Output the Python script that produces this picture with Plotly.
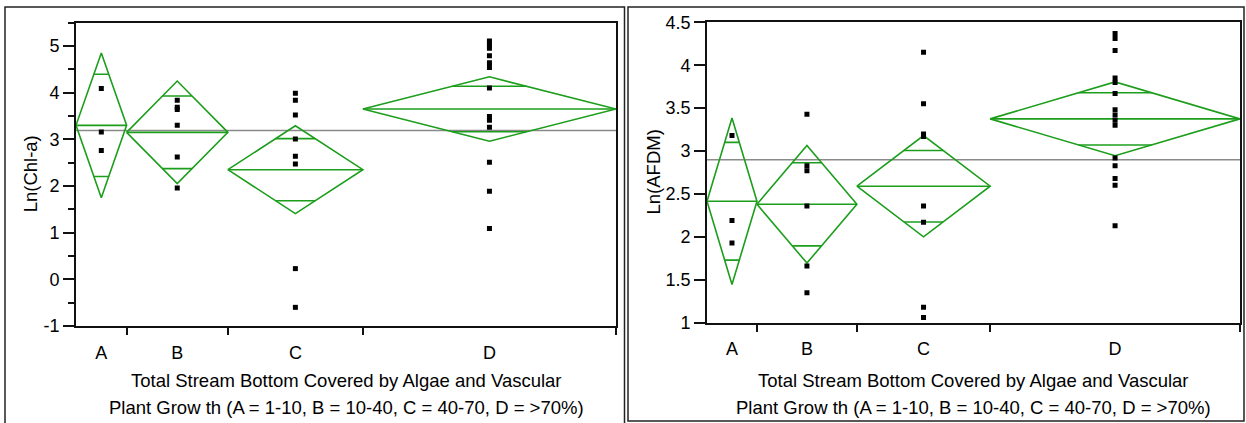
import math
import plotly.graph_objects as go

# ---- data -------------------------------------------------------------
groups = ["A", "B", "C", "D"]
n_obs = [3, 6, 8, 15]          # group sizes (sets the width of each level)

# Ln(Chl-a) observations per group
chl_A = [4.09, 3.16, 2.76]
chl_B = [3.84, 3.69, 3.64, 3.30, 2.62, 1.96]
chl_C = [3.99, 3.84, 3.52, 3.01, 2.64, 2.47, 0.23, -0.60]
chl_D = [5.11, 5.03, 4.95, 4.79, 4.64, 4.54, 4.10, 3.49, 3.41, 3.26, 2.51, 1.89, 1.09]
chl_means = [3.30, 3.15, 2.35, 3.65]
chl_ci = [1.55, 1.10, 0.94, 0.69]      # 95% CI half-widths
chl_grand = 3.19

# Ln(AFDM) observations per group
afdm_A = [3.18, 2.19, 1.93]
afdm_B = [3.43, 2.83, 2.77, 2.36, 1.66, 1.35]
afdm_C = [4.15, 3.55, 3.20, 3.17, 2.36, 2.17, 1.18, 1.06]
afdm_D = [4.37, 4.31, 4.17, 3.85, 3.80, 3.67, 3.48, 3.42, 3.36, 3.30,
          2.92, 2.83, 2.68, 2.60, 2.13]
afdm_means = [2.415, 2.38, 2.59, 3.375]
afdm_ci = [0.97, 0.685, 0.59, 0.43]
afdm_grand = 2.90

chl_ticks = [-1, 0, 1, 2, 3, 4, 5]
afdm_ticks = [1, 1.5, 2, 2.5, 3, 3.5, 4, 4.5]

x_title_1 = "Total Stream Bottom Covered by Algae and Vascular"
x_title_2 = "Plant Grow th (A = 1-10, B = 10-40, C = 40-70, D = >70%)"

# ---- style ------------------------------------------------------------
W, H = 1246, 423
FONT = "Arial, Liberation Sans, sans-serif"
GREEN = "#1c9e1c"
GRAY = "#8a8a8a"
AXC = "#111111"

# level boundaries along x (widths proportional to n)
edges = [0]
for n in n_obs:
    edges.append(edges[-1] + n)
centers = [(edges[i] + edges[i + 1]) / 2 for i in range(len(n_obs))]
xmax = edges[-1]

fig = go.Figure()


def add_panel(xa, ya, pts, means, cis, grand):
    # grand mean reference line
    fig.add_trace(go.Scatter(x=[0, xmax], y=[grand, grand], mode="lines",
                             line=dict(color=GRAY, width=1.5),
                             xaxis=xa, yaxis=ya, hoverinfo="skip"))
    for i, (m, hw) in enumerate(zip(means, cis)):
        lo, hi, c = edges[i], edges[i + 1], centers[i]
        half = (hi - lo) / 2
        # means diamond
        fig.add_trace(go.Scatter(x=[lo, c, hi, c, lo], y=[m, m + hw, m, m - hw, m],
                                 mode="lines", line=dict(color=GREEN, width=1.6),
                                 xaxis=xa, yaxis=ya, hoverinfo="skip"))
        # mean line
        fig.add_trace(go.Scatter(x=[lo, hi], y=[m, m], mode="lines",
                                 line=dict(color=GREEN, width=1.6),
                                 xaxis=xa, yaxis=ya, hoverinfo="skip"))
        # overlap marks at mean +/- hw/sqrt(2)
        d = hw / math.sqrt(2)
        w = half * (1 - 1 / math.sqrt(2))
        for yv in (m + d, m - d):
            fig.add_trace(go.Scatter(x=[c - w, c + w], y=[yv, yv], mode="lines",
                                     line=dict(color=GREEN, width=1.6),
                                     xaxis=xa, yaxis=ya, hoverinfo="skip"))
    for i, vals in enumerate(pts):
        fig.add_trace(go.Scatter(x=[centers[i]] * len(vals), y=vals, mode="markers",
                                 marker=dict(symbol="square", size=5, color="black"),
                                 xaxis=xa, yaxis=ya, hoverinfo="skip"))


add_panel("x", "y", [chl_A, chl_B, chl_C, chl_D], chl_means, chl_ci, chl_grand)
add_panel("x2", "y2", [afdm_A, afdm_B, afdm_C, afdm_D], afdm_means, afdm_ci, afdm_grand)

# empty traces so the label axes are attached to their subplots
fig.add_trace(go.Scatter(x=[], y=[], xaxis="x3", yaxis="y", showlegend=False))
fig.add_trace(go.Scatter(x=[], y=[], xaxis="x4", yaxis="y2", showlegend=False))

L_dom_x = [76 / W, 616 / W]
L_dom_y = [1 - 326 / H, 1 - 22.7 / H]
R_dom_x = [707 / W, 1240 / W]
R_dom_y = [1 - 322.7 / H, 1 - 22.3 / H]

tickfont = dict(family=FONT, size=18, color="black")


def sep_axis(dom, anchor):
    return dict(domain=dom, anchor=anchor, range=[0, xmax], showgrid=False,
                zeroline=False, showline=True, mirror=True, linecolor=AXC,
                linewidth=1.6, tickmode="array", tickvals=edges[1:],
                ticks="outside", ticklen=7, tickwidth=1.6, tickcolor=AXC,
                showticklabels=False, automargin=False)


def label_axis(over, anchor):
    return dict(overlaying=over, anchor=anchor, range=[0, xmax], showgrid=False,
                zeroline=False, showline=False, tickmode="array",
                tickvals=centers, ticktext=groups, ticks="outside", ticklen=10,
                tickcolor="rgba(0,0,0,0)", tickfont=tickfont, automargin=False)


def y_axis(dom, anchor, rng, tv, minor):
    ax = dict(domain=dom, anchor=anchor, range=rng, showgrid=False, zeroline=False,
              showline=True, mirror=True, linecolor=AXC, linewidth=1.6,
              tickmode="array", tickvals=tv, ticktext=[f"{v:g}" for v in tv],
              ticks="outside", ticklen=11, tickwidth=1.6, tickcolor=AXC,
              tickfont=tickfont, automargin=False)
    if minor:
        ax["minor"] = dict(dtick=0.5, tick0=0, ticks="outside", ticklen=6,
                           tickwidth=1.6, tickcolor=AXC)
    return ax


fig.update_layout(
    width=W, height=H, margin=dict(l=0, r=0, t=0, b=0, autoexpand=False),
    paper_bgcolor="white", plot_bgcolor="white", showlegend=False,
    xaxis=sep_axis(L_dom_x, "y"),
    xaxis2=sep_axis(R_dom_x, "y2"),
    xaxis3=label_axis("x", "y"),
    xaxis4=label_axis("x2", "y2"),
    yaxis=y_axis(L_dom_y, "x", [-1, 5.5], chl_ticks, True),
    yaxis2=y_axis(R_dom_y, "x2", [1, 4.5], afdm_ticks, False),
)

# outer frames around each panel
fig.add_shape(type="rect", xref="paper", yref="paper",
              x0=5 / W, x1=624.5 / W, y0=1 - 440 / H, y1=1 - 7 / H,
              line=dict(color="#222", width=1.5))
fig.add_shape(type="rect", xref="paper", yref="paper",
              x0=628 / W, x1=1244 / W, y0=1 - 421 / H, y1=1 - 7 / H,
              line=dict(color="#222", width=1.5))

ann_font = dict(family=FONT, size=18.5, color="black")
for dom_x, dom_y, ytitle, xpix in [(L_dom_x, L_dom_y, "Ln(Chl-a)", 30),
                                   (R_dom_x, R_dom_y, "Ln(AFDM)", 653)]:
    cx = (dom_x[0] + dom_x[1]) / 2
    fig.add_annotation(text=x_title_1, xref="paper", yref="paper", x=cx,
                       y=1 - 380 / H, showarrow=False, font=ann_font,
                       xanchor="center", yanchor="middle")
    fig.add_annotation(text=x_title_2, xref="paper", yref="paper", x=cx,
                       y=1 - 407 / H, showarrow=False, font=ann_font,
                       xanchor="center", yanchor="middle")
    fig.add_annotation(text=ytitle, xref="paper", yref="paper", x=xpix / W,
                       y=(dom_y[0] + dom_y[1]) / 2, textangle=-90, showarrow=False,
                       font=ann_font, xanchor="center", yanchor="middle")

fig.write_html("out.html")
